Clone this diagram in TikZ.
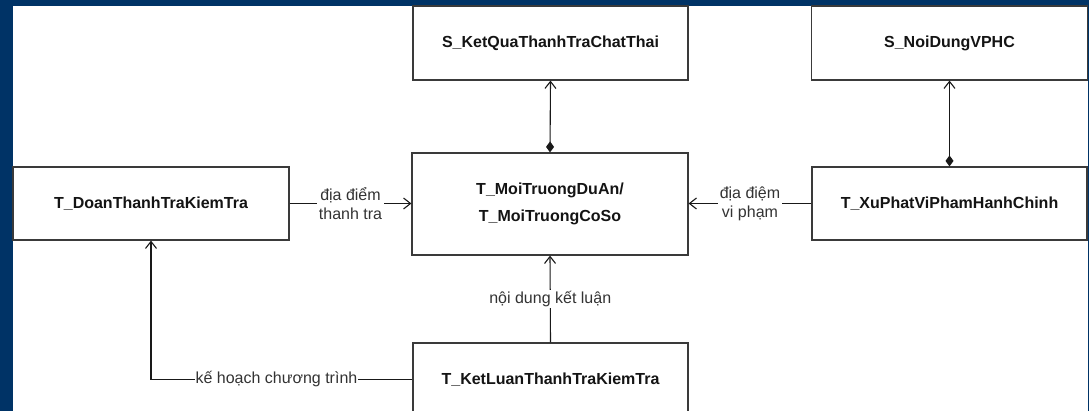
\documentclass[tikz,border=0pt]{standalone}
\usepackage{fontspec}
\setmainfont{Liberation Sans}
\usetikzlibrary{arrows.meta}
\definecolor{frameblue}{HTML}{003366}
\definecolor{edgegrey}{HTML}{3A3A3A}
\definecolor{labelgrey}{HTML}{333333}

\begin{document}
\begin{tikzpicture}[x=1pt,y=-1pt,
  entity/.style={draw=edgegrey, line width=1.2pt, fill=white, rectangle,
    inner sep=0pt, align=center, text=black!92,
    font=\bfseries\fontsize{16}{27}\selectfont},
  link/.style={draw=black!90, line width=1.1pt},
  opentip/.tip={Straight Barb[length=7pt,width=11pt,line width=1.1pt]},
  comptip/.tip={Diamond[length=11pt,width=8pt]},
  edgelabel/.style={fill=white, text=labelgrey, inner sep=1.5pt, align=center,
    font=\fontsize{16}{19}\selectfont}]

  \useasboundingbox (0,0) rectangle (1089,411);
  \fill[frameblue] (0,0) rectangle (1089,411);
  \fill[white] (13,6) rectangle (1088,411);

  % entities
  \node[entity, minimum width=275pt, minimum height=74pt] (ketqua)
    at (550.5,43) {S\_KetQuaThanhTraChatThai};
  \node[entity, minimum width=276pt, minimum height=74pt] (noidung)
    at (949.5,43) {S\_NoiDungVPHC};
  \node[entity, minimum width=276pt, minimum height=73pt] (doan)
    at (151,203.5) {T\_DoanThanhTraKiemTra};
  \node[entity, minimum width=276pt, minimum height=102pt] (moitruong)
    at (550,204) {T\_MoiTruongDuAn/\\T\_MoiTruongCoSo};
  \node[entity, minimum width=275pt, minimum height=73pt] (xuphat)
    at (949.5,203.5) {T\_XuPhatViPhamHanhChinh};
  \node[entity, minimum width=275pt, minimum height=73pt] (ketluan)
    at (550.5,379.5) {T\_KetLuanThanhTraKiemTra};

  % composition links
  \draw[link, opentip-comptip] (ketqua.south) -- (moitruong.north);
  \draw[link, opentip-comptip] (noidung.south) -- (xuphat.north);

  % associations
  \draw[link, -opentip] (doan.east) -- (moitruong.west |- doan.east)
    node[edgelabel, midway] {địa điểm\\thanh tra};
  \draw[link, -opentip] (xuphat.west) -- (moitruong.east |- xuphat.west)
    node[edgelabel, midway] {địa điệm\\vi phạm};
  \draw[link, -opentip] (ketluan.north) -- (moitruong.south)
    node[edgelabel, midway] {nội dung kết luận};
  \draw[link, -opentip] (ketluan.west) -- (doan.south |- ketluan.west)
    node[edgelabel, pos=0.52, inner sep=0.5pt] {kế hoạch chương trình}
    -- (doan.south);
\end{tikzpicture}
\end{document}
